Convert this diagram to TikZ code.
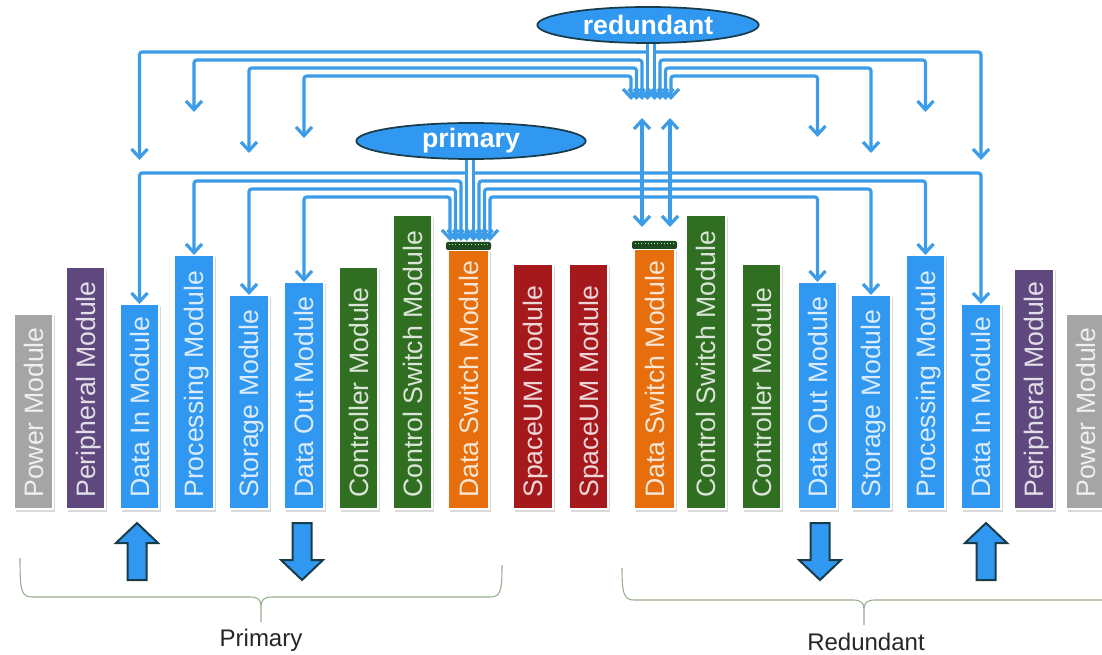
\documentclass[tikz,border=0pt]{standalone}
\usepackage{fontspec}
\setmainfont{Liberation Sans}
\usetikzlibrary{arrows.meta,shapes.geometric}
\definecolor{cgray}{RGB}{165,165,165}
\definecolor{cpurple}{RGB}{95,72,125}
\definecolor{cblue}{RGB}{48,152,240}
\definecolor{cgreen}{RGB}{48,110,34}
\definecolor{corange}{RGB}{230,110,12}
\definecolor{cred}{RGB}{165,24,28}
\definecolor{cline}{RGB}{60,156,232}
\definecolor{cdark}{RGB}{25,60,75}
\definecolor{ccap}{RGB}{30,72,32}
\definecolor{cbrace}{RGB}{150,175,140}
\newcommand\modul[6]{%
  \fill[black!15] ({#2+1.5},{#4+2.5}) rectangle ({#3+2},512);
  \node[modbox, fill=#5, minimum width={(#3-#2)*0.75pt}, minimum height={(509-#4)*0.75pt}] (#1) at ({(#2+#3)/2},{(509+#4)/2}) {};
  \node[modtext, text=white!82!#5] (#1-t) at ({(#2+#3)/2},498) {#6};
}
\begin{document}
\begin{tikzpicture}[x=0.75pt,y=-0.75pt,
  modbox/.style={rectangle, draw=white, line width=0.8pt, inner sep=0pt, outer sep=0pt},
  modtext/.style={rotate=90, anchor=west, inner sep=0pt, font=\fontsize{20}{22}\selectfont, text height=14.3pt, text depth=0pt},
  conn/.style={draw=cline, line width=2.4pt, rounded corners=2pt},
  >={Straight Barb[length=6.5pt,width=12pt]},
  ell/.style={ellipse, fill=cblue, draw=cdark, line width=1.3pt, inner sep=0pt, text=white, font=\bfseries\fontsize{20}{22}\selectfont},
  blk/.style={fill=cblue, draw=cdark, line width=1.5pt, line join=miter},
  brace/.style={draw=cbrace, line width=0.8pt},
  lbl/.style={font=\fontsize{18}{20}\selectfont, text=black!85}
]
\useasboundingbox (0,0) rectangle (1102,655);
\fill[white] (0,0) rectangle (1102,655);

% modules
\modul{PowL}{14}{53}{314}{cgray}{Power Module}
\modul{PerL}{66}{105}{267}{cpurple}{Peripheral Module}
\modul{DInL}{120}{159}{304}{cblue}{Data In Module}
\modul{ProcL}{174}{214}{255}{cblue}{Processing Module}
\modul{StoL}{229}{269}{295}{cblue}{Storage Module}
\modul{DOutL}{284}{324}{282}{cblue}{Data Out Module}
\modul{CtrlL}{339}{378}{267}{cgreen}{Controller Module}
\modul{CSwL}{393}{432}{215}{cgreen}{Control Switch Module}
\modul{DSwL}{448}{489}{250}{corange}{Data Switch Module}
\modul{SpL}{513}{553}{264}{cred}{SpaceUM Module}
\modul{SpR}{569}{608}{264}{cred}{SpaceUM Module}
\modul{DSwR}{634}{675}{249}{corange}{Data Switch Module}
\modul{CSwR}{686}{726}{215}{cgreen}{Control Switch Module}
\modul{CtrlR}{742}{781}{264}{cgreen}{Controller Module}
\modul{DOutR}{798}{837}{282}{cblue}{Data Out Module}
\modul{StoR}{851}{891}{295}{cblue}{Storage Module}
\modul{ProcR}{906}{945}{255}{cblue}{Processing Module}
\modul{DInR}{961}{1001}{304}{cblue}{Data In Module}
\modul{PerR}{1014}{1054}{269}{cpurple}{Peripheral Module}
\modul{PowR}{1066}{1106}{314}{cgray}{Power Module}

% data switch caps
\fill[ccap, rounded corners=1.5pt] (446,242) rectangle (491,250);
\draw[green!45!white, line width=0.6pt, dash pattern=on 0.8pt off 1.6pt] (449,244.5) -- (488,244.5);
\fill[ccap, rounded corners=1.5pt] (632,241) rectangle (677,249);
\draw[green!45!white, line width=0.6pt, dash pattern=on 0.8pt off 1.6pt] (635,243.5) -- (674,243.5);

% primary bus
\draw[conn,->] (466.5,156) -- (466.5,241);
\draw[conn,->] (473.5,156) -- (473.5,241);
\draw[conn,->] (466.5,173) -| (DInL.north);
\draw[conn,->] (473.5,173) -| (DInR.north);
\draw[conn,<->] (461,241) -- (461,181) -| (ProcL.north);
\draw[conn,<->] (455.5,241) -- (455.5,189) -| (StoL.north);
\draw[conn,<->] (450,241) -- (450,197) -| (DOutL.north);
\draw[conn,<->] (479,241) -- (479,181) -| (ProcR.north);
\draw[conn,<->] (484.5,241) -- (484.5,189) -| (StoR.north);
\draw[conn,<->] (490,241) -- (490,197) -| (DOutR.north);

% redundant bus free ends
\coordinate (rL1) at (139.5,160);
\coordinate (rL2) at (194,112);
\coordinate (rL3) at (249,153);
\coordinate (rL4) at (304,138);
\coordinate (rR1) at (981,160);
\coordinate (rR2) at (925.5,112);
\coordinate (rR3) at (871,153);
\coordinate (rR4) at (817.5,137);
\draw[conn,->] (647.5,38) -- (647.5,100);
\draw[conn,->] (654.5,38) -- (654.5,100);
\draw[conn,->] (647.5,52) -| (rL1);
\draw[conn,->] (654.5,52) -| (rR1);
\draw[conn,<->] (642,100) -- (642,60) -| (rL2);
\draw[conn,<->] (636.5,100) -- (636.5,68) -| (rL3);
\draw[conn,<->] (631,100) -- (631,76) -| (rL4);
\draw[conn,<->] (660,100) -- (660,60) -| (rR2);
\draw[conn,<->] (665.5,100) -- (665.5,68) -| (rR3);
\draw[conn,<->] (671,100) -- (671,76) -| (rR4);

% links between redundant bus and right data switch
\coordinate (dA1) at (642,118);
\coordinate (dA2) at (642,227);
\coordinate (dB1) at (670,118);
\coordinate (dB2) at (670,227);
\draw[conn,<->] (dA1) -- (dA2);
\draw[conn,<->] (dB1) -- (dB2);

% ellipses
\node[ell, minimum width=172pt, minimum height=27pt] (priell) at (471,141) {primary};
\node[ell, minimum width=166pt, minimum height=27pt] (redell) at (648,25) {redundant};

% block arrows
\draw[blk] (137,523) -- (158,543) -- (146.5,543) -- (146.5,580) -- (127.5,580) -- (127.5,543) -- (116,543) -- cycle;
\draw[blk] (292.5,523) -- (311.5,523) -- (311.5,560) -- (323,560) -- (302,580) -- (281,560) -- (292.5,560) -- cycle;
\draw[blk] (810.5,523) -- (829.5,523) -- (829.5,560) -- (841,560) -- (820,580) -- (799,560) -- (810.5,560) -- cycle;
\draw[blk] (986,523) -- (1007,543) -- (995.5,543) -- (995.5,580) -- (976.5,580) -- (976.5,543) -- (965,543) -- cycle;

% braces
\draw[brace] (20,558) .. controls (20,590) and (21,597) .. (32,597) -- (250,597) .. controls (258,597) and (261,600) .. (261,606) -- (261,622);
\draw[brace] (261,606) .. controls (261,600) and (264,597) .. (272,597) -- (490,597) .. controls (501,597) and (502,590) .. (502,565);
\draw[brace] (622,568) .. controls (622,594) and (624,600) .. (634,600) -- (853,600) .. controls (861,600) and (864,603) .. (864,609) -- (864,625);
\draw[brace] (864,609) .. controls (864,603) and (867,600) .. (875,600) -- (1110,600);

\node[lbl] (plbl) at (261,640) {Primary};
\node[lbl] (rlbl) at (866,642) {Redundant};
\end{tikzpicture}
\end{document}
